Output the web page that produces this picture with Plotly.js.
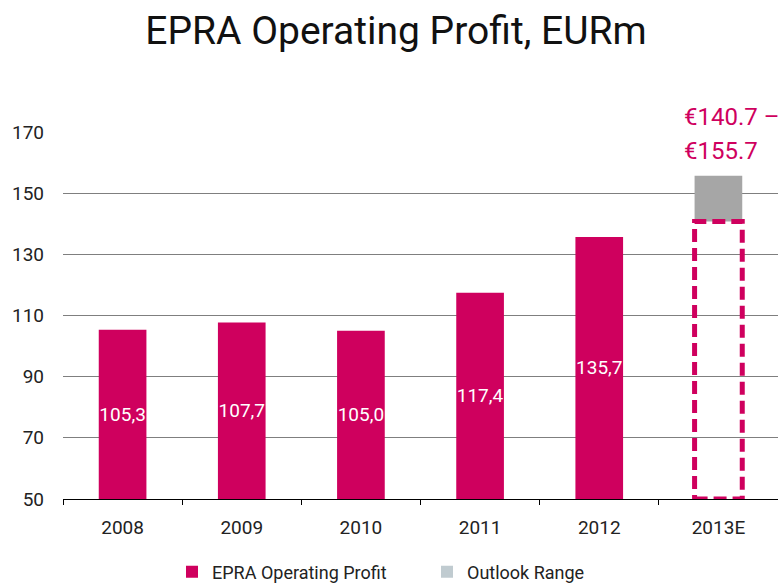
<!DOCTYPE html>
<html><head><meta charset="utf-8">
<script src="https://cdn.plot.ly/plotly-3.0.1.min.js"></script>
<style>html,body{margin:0;padding:0;background:#fff}</style>
</head><body>
<div id="chart" style="width:778px;height:584px"></div>
<script>
var years = ['2008','2009','2010','2011','2012','2013E'];
var actualYears = ['2008','2009','2010','2011','2012'];
var profit = [105.3, 107.7, 105.0, 117.4, 135.7];
var outlookLow = 140.7;
var outlookHigh = 155.7;
var axisMin = 50;
var yTicks = [50, 70, 90, 110, 130, 150, 170];

var magenta = '#cf005e';
var font = 'Roboto, "Noto Sans", sans-serif';

var traces = [
  {
    type: 'bar', name: 'EPRA Operating Profit',
    x: actualYears, y: profit.map(function(v){return v - axisMin;}), base: axisMin,
    marker: {color: magenta},
    width: 0.4,
    text: profit.map(function(v){return v.toFixed(1).replace('.', ',');}),
    textposition: 'inside', insidetextanchor: 'middle', constraintext: 'none', textangle: 0,
    textfont: {color: '#ffffff', size: 19, family: font},
    hoverinfo: 'skip'
  },
  {
    type: 'bar', name: 'Outlook Range', showlegend: false,
    x: ['2013E'], y: [outlookHigh - outlookLow], base: outlookLow,
    marker: {color: '#a6a6a6'}, width: 0.4, hoverinfo: 'skip'
  },
  {
    type: 'bar', name: 'Outlook Range',
    x: ['2013E'], y: [null],
    marker: {color: '#c0cbd0'}, width: 0.4, hoverinfo: 'skip'
  }
];

var idx = years.indexOf('2013E');
var layout = {
  width: 778, height: 584,
  margin: {l: 63, r: 0, t: 132, b: 85, autoexpand: false},
  paper_bgcolor: '#ffffff', plot_bgcolor: '#ffffff',
  font: {family: font, color: '#222222', size: 18},
  separators: ',.',
  barmode: 'overlay',
  title: {
    text: 'EPRA Operating Profit, EURm',
    font: {family: font, size: 39, color: '#111111'},
    x: 0.509, xanchor: 'center', y: 1 - 30/584, yanchor: 'middle'
  },
  xaxis: {
    type: 'category', categoryorder: 'array', categoryarray: years,
    range: [-0.5, years.length - 0.5],
    showgrid: false, showline: true, linecolor: '#000000', linewidth: 1,
    ticks: 'outside', tickson: 'boundaries', ticklen: 5, tickcolor: '#000000',
    ticklabelstandoff: 11,
    tickfont: {size: 19, color: '#222222'}, fixedrange: true
  },
  yaxis: {
    range: [axisMin, 170], tickvals: yTicks,
    showgrid: true, gridcolor: '#7f7f7f', gridwidth: 1,
    zeroline: false, showline: false, ticks: '',
    ticklabelstandoff: 18,
    tickfont: {size: 19, color: '#222222'}, fixedrange: true
  },
  shapes: [{
    type: 'rect', xref: 'x', yref: 'y',
    x0: idx - 0.2, x1: idx + 0.2, y0: axisMin, y1: outlookLow,
    line: {color: magenta, width: 5, dash: '13px,6px'},
    fillcolor: 'rgba(0,0,0,0)'
  }],
  annotations: [
    {xref: 'paper', yref: 'paper', x: (682-63)/715, y: (499-117)/367,
     xanchor: 'left', yanchor: 'middle', showarrow: false,
     text: '€' + outlookLow.toFixed(1) + ' –', font: {size: 24, color: magenta, family: font}},
    {xref: 'paper', yref: 'paper', x: (682-63)/715, y: (499-151)/367,
     xanchor: 'left', yanchor: 'middle', showarrow: false,
     text: '€' + outlookHigh.toFixed(1), font: {size: 24, color: magenta, family: font}}
  ],
  legend: {
    orientation: 'h', x: (172-63)/715, xanchor: 'left', y: (499-572)/367, yanchor: 'middle',
    font: {size: 18, color: '#222222'}, traceorder: 'normal', itemclick: false,
    entrywidth: 210
  },
  showlegend: true
};

Plotly.newPlot('chart', traces, layout, {displayModeBar: false, staticPlot: true});
</script>
</body></html>
